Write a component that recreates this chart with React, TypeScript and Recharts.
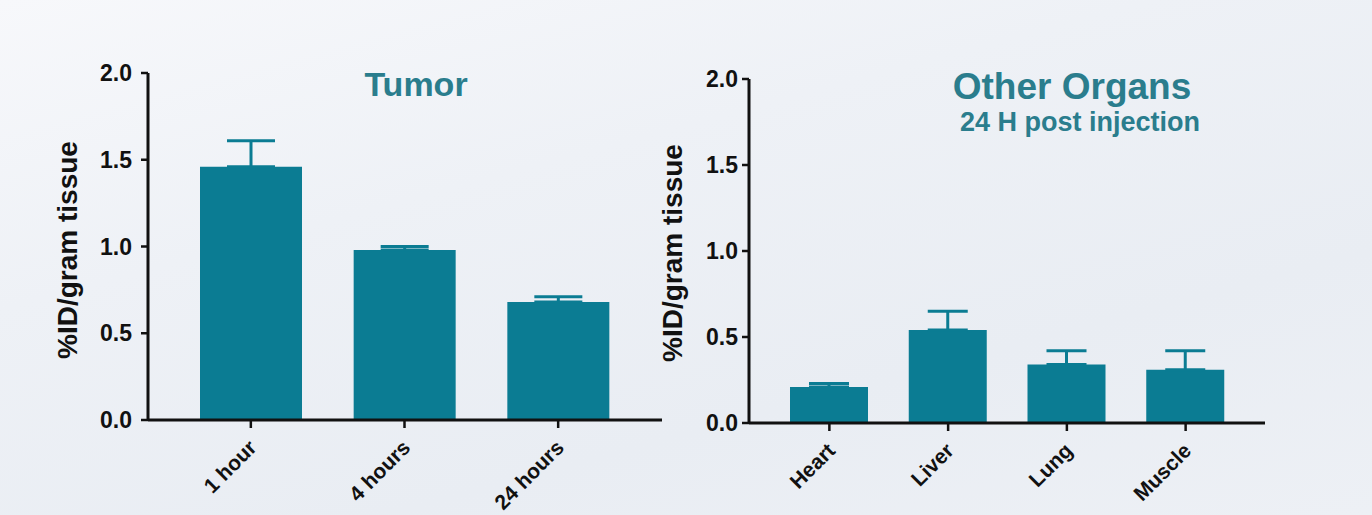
import React from "react";
import { BarChart, Bar, XAxis, YAxis, ErrorBar } from "recharts";

const tumorCategories = ["1 hour", "4 hours", "24 hours"];
const tumorMeans = [1.46, 0.98, 0.68];
const tumorErrors = [0.15, 0.02, 0.03];

const organCategories = ["Heart", "Liver", "Lung", "Muscle"];
const organMeans = [0.21, 0.54, 0.34, 0.31];
const organErrors = [0.02, 0.11, 0.08, 0.11];

const yTicks = [0, 0.5, 1.0, 1.5, 2.0];

const BAR = "#0b7c93";
const TITLE = "#2a7d8d";
const FONT = "'Liberation Sans', Arial, Helvetica, sans-serif";

const tumorData = tumorCategories.map((c, i) => ({
  name: c,
  value: tumorMeans[i],
  err: [0, tumorErrors[i]],
}));
const organData = organCategories.map((c, i) => ({
  name: c,
  value: organMeans[i],
  err: [0, organErrors[i]],
}));

const XTick = (props: any) => {
  const { x, y, payload } = props;
  const px = x + 7;
  const py = y + 19;
  return (
    <text
      x={px}
      y={py}
      transform={`rotate(-45 ${px} ${py})`}
      textAnchor="end"
      fontFamily={FONT}
      fontWeight="bold"
      fontSize={21}
      fill="#111"
    >
      {payload.value}
    </text>
  );
};

const YTick = (props: any) => {
  const { x, y, payload } = props;
  return (
    <text
      x={x}
      y={y}
      dy={8}
      textAnchor="end"
      fontFamily={FONT}
      fontWeight="bold"
      fontSize={23}
      fill="#111"
    >
      {Number(payload.value).toFixed(1)}
    </text>
  );
};

const axisLine = { stroke: "#111", strokeWidth: 3 };
const tickLine = { stroke: "#111", strokeWidth: 2.5 };

const labelStyle: React.CSSProperties = {
  position: "absolute",
  transform: "translate(-50%, -50%) rotate(-90deg)",
  whiteSpace: "nowrap",
  fontWeight: "bold",
  fontSize: 28,
  color: "#111",
  lineHeight: 1,
};

const titleStyle: React.CSSProperties = {
  position: "absolute",
  transform: "translate(-50%, -50%)",
  whiteSpace: "nowrap",
  fontWeight: "bold",
  color: TITLE,
};

export default function App() {
  return (
    <div
      style={{
        position: "absolute",
        left: 0,
        top: 0,
        width: 1372,
        height: 515,
        overflow: "hidden",
        background:
          "linear-gradient(165deg, #f7f8fb 0%, #eef1f6 35%, #e9edf3 70%, #edf0f5 100%)",
        fontFamily: FONT,
      }}
    >
      {/* Left chart */}
      <div style={{ position: "absolute", left: 0, top: 0 }}>
        <BarChart
          width={680}
          height={515}
          data={tumorData}
          margin={{ top: 73, right: 18, bottom: 0, left: 0 }}
          barSize={102}
        >
          <XAxis
            dataKey="name"
            height={95}
            padding={{ left: 26, right: 27 }}
            axisLine={axisLine}
            tickLine={tickLine}
            tickSize={8}
            tick={<XTick />}
            interval={0}
          />
          <YAxis
            width={148}
            domain={[0, 2]}
            ticks={yTicks}
            axisLine={axisLine}
            tickLine={tickLine}
            tickSize={7}
            tickMargin={9}
            tick={<YTick />}
          />
          <Bar dataKey="value" fill={BAR} isAnimationActive={false}>
            <ErrorBar dataKey="err" direction="y" width={24} stroke={BAR} strokeWidth={3} />
          </Bar>
        </BarChart>
      </div>

      {/* Right chart */}
      <div style={{ position: "absolute", left: 680, top: 0 }}>
        <BarChart
          width={692}
          height={515}
          data={organData}
          margin={{ top: 79, right: 107, bottom: 0, left: 0 }}
          barSize={78}
        >
          <XAxis
            dataKey="name"
            height={92}
            padding={{ left: 21, right: 20 }}
            axisLine={axisLine}
            tickLine={tickLine}
            tickSize={8}
            tick={<XTick />}
            interval={0}
          />
          <YAxis
            width={69}
            domain={[0, 2]}
            ticks={yTicks}
            axisLine={axisLine}
            tickLine={tickLine}
            tickSize={7}
            tickMargin={4}
            tick={<YTick />}
          />
          <Bar dataKey="value" fill={BAR} isAnimationActive={false}>
            <ErrorBar dataKey="err" direction="y" width={20} stroke={BAR} strokeWidth={3} />
          </Bar>
        </BarChart>
      </div>

      {/* Y axis labels */}
      <div style={{ ...labelStyle, left: 68, top: 250 }}>%ID/gram tissue</div>
      <div style={{ ...labelStyle, left: 673, top: 253 }}>%ID/gram tissue</div>

      {/* Titles */}
      <div style={{ ...titleStyle, left: 416, top: 84, fontSize: 34 }}>Tumor</div>
      <div style={{ ...titleStyle, left: 1072, top: 87, fontSize: 37 }}>Other Organs</div>
      <div style={{ ...titleStyle, left: 1080, top: 122, fontSize: 27 }}>
        24 H post injection
      </div>
    </div>
  );
}
